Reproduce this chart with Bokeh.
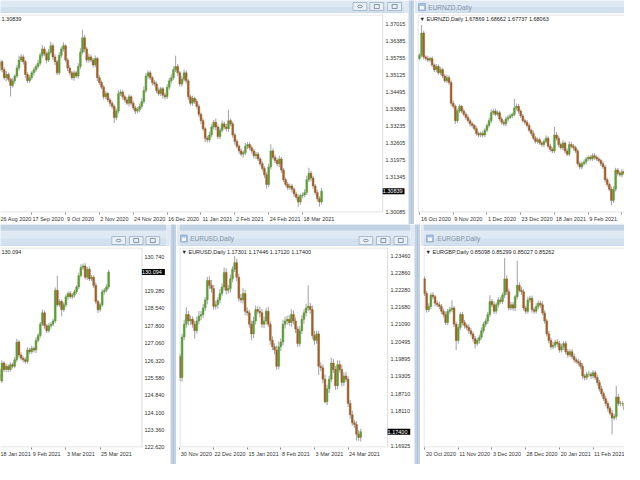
from bokeh.plotting import figure
from bokeh.layouts import row, column
from bokeh.models import (Range1d, FixedTicker, Label, ColumnDataSource,
                          PrintfTickFormatter, BoxAnnotation)
from bokeh.core.properties import value
from bokeh.embed import file_html
from bokeh.resources import INLINE

# ------------------------------------------------------------------ data
# top-left window (symbol name hidden off-screen), daily closes
TL_first_open = 1.35300
TL_close = [
    1.35507, 1.35625, 1.35330, 1.35035, 1.35153, 1.34977, 1.34741, 1.34918, 1.35094, 1.35389,
    1.35684, 1.35801, 1.35625, 1.35153, 1.34918, 1.35035, 1.35212, 1.35330, 1.35448, 1.35566,
    1.35860, 1.36096, 1.35919, 1.35684, 1.35978, 1.36214, 1.35801, 1.35625, 1.35212, 1.35860,
    1.36096, 1.36214, 1.35684, 1.35389, 1.35212, 1.35035, 1.35212, 1.35094, 1.35448, 1.35978,
    1.36508, 1.36096, 1.35684, 1.35801, 1.35684, 1.35507, 1.35742, 1.35035, 1.34859, 1.34682,
    1.34329, 1.34446, 1.34211, 1.34093, 1.33975, 1.33563, 1.33798, 1.34446, 1.34505, 1.34329,
    1.34211, 1.34093, 1.34329, 1.34093, 1.33916, 1.33798, 1.33857, 1.33975, 1.34152, 1.34564,
    1.35094, 1.35212, 1.35035, 1.34859, 1.34800, 1.34564, 1.34446, 1.34623, 1.34387, 1.34329,
    1.34682, 1.34918, 1.35035, 1.35330, 1.35448, 1.35212, 1.34800, 1.34977, 1.35212, 1.34918,
    1.34329, 1.34093, 1.34270, 1.34152, 1.33975, 1.33681, 1.33445, 1.33150, 1.32797, 1.32738,
    1.32915, 1.33209, 1.33386, 1.33209, 1.32856, 1.33091, 1.33327, 1.33209, 1.33150, 1.33445,
    1.33327, 1.32915, 1.32679, 1.32502, 1.32326, 1.32208, 1.32267, 1.32502, 1.32561, 1.32443,
    1.32326, 1.32149, 1.32208, 1.32031, 1.31854, 1.31678, 1.31442, 1.31088, 1.31737, 1.32326,
    1.32090, 1.31972, 1.31854, 1.32031, 1.31619, 1.31265, 1.31088, 1.30971, 1.31030, 1.30912,
    1.30735, 1.30617, 1.30440, 1.30676, 1.30699, 1.30794, 1.31265, 1.31501, 1.31324, 1.31030,
    1.30794, 1.30558, 1.30440, 1.30839]
TL_hi_pips = [
    8, 10, 6, 9, 12, 7, 5, 10, 8, 12,
    15, 10, 9, 6, 8, 10, 7, 9, 8, 12,
    10, 14, 9, 8, 12, 15, 8, 10, 6, 11,
    9, 13, 6, 8, 10, 7, 9, 8, 12, 14,
    30, 10, 8, 12, 9, 8, 11, 6, 9, 7,
    8, 10, 6, 8, 9, 7, 10, 12, 9, 8,
    7, 10, 9, 6, 8, 7, 9, 10, 12, 14,
    10, 9, 8, 7, 10, 9, 12, 8, 7, 9,
    11, 10, 13, 12, 40, 9, 8, 10, 12, 9,
    7, 8, 10, 6, 9, 8, 7, 8, 6, 9,
    12, 10, 8, 14, 9, 10, 12, 9, 11, 40,
    8, 9, 7, 8, 6, 9, 8, 12, 10, 9,
    8, 7, 9, 8, 6, 9, 8, 10, 12, 25,
    9, 10, 8, 12, 7, 9, 8, 10, 9, 8,
    7, 9, 10, 8, 9, 12, 14, 20, 9, 8,
    7, 10, 9, 12]
TL_lo_pips = [
    9, 7, 10, 8, 12, 9, 40, 8, 10, 7,
    9, 8, 10, 12, 9, 7, 8, 10, 9, 8,
    8, 10, 9, 12, 8, 9, 10, 12, 9, 8,
    10, 9, 8, 12, 10, 9, 11, 8, 10, 9,
    8, 12, 10, 9, 8, 10, 9, 12, 10, 8,
    10, 9, 8, 12, 9, 20, 10, 8, 9, 10,
    9, 8, 12, 10, 9, 11, 8, 10, 9, 8,
    9, 10, 8, 12, 9, 10, 8, 9, 12, 10,
    8, 9, 10, 8, 9, 12, 10, 9, 8, 10,
    12, 9, 10, 8, 9, 10, 12, 9, 14, 10,
    9, 8, 10, 12, 9, 10, 8, 9, 10, 12,
    9, 10, 12, 9, 10, 8, 12, 9, 10, 8,
    9, 10, 12, 8, 9, 10, 12, 15, 9, 10,
    8, 10, 9, 12, 10, 9, 8, 10, 9, 12,
    10, 9, 18, 10, 9, 8, 10, 9, 12, 10,
    9, 10, 18, 9]
TL_date_ticks = [0, 16, 32, 48, 64, 80, 96, 112, 128, 144]
TL_date_labels = ["26 Aug 2020", "17 Sep 2020", "9 Oct 2020", "2 Nov 2020", "24 Nov 2020",
                  "16 Dec 2020", "11 Jan 2021", "2 Feb 2021", "24 Feb 2021", "18 Mar 2021"]
TL_price_ticks = [1.30085, 1.31345, 1.31975, 1.32605, 1.33235, 1.33865,
                  1.34495, 1.35125, 1.35755, 1.36385, 1.37015]
TL_header = "1.30839"
TL_last = 1.30839

# EURNZD, Daily
TR_first_open = 1.76582
TR_close = [
    1.76824, 1.78518, 1.76703, 1.76582, 1.76461, 1.76582, 1.76098, 1.75735, 1.75977, 1.75493,
    1.75735, 1.75251, 1.74888, 1.75130, 1.74767, 1.73194, 1.72952, 1.71863, 1.72589, 1.72952,
    1.72589, 1.72347, 1.72105, 1.71863, 1.71621, 1.71500, 1.71258, 1.70895, 1.70774, 1.70895,
    1.70774, 1.71137, 1.71500, 1.71863, 1.72468, 1.72589, 1.72347, 1.72468, 1.71984, 1.71742,
    1.71621, 1.71984, 1.72105, 1.72226, 1.72347, 1.72831, 1.72952, 1.72589, 1.72226, 1.71863,
    1.71742, 1.71500, 1.71137, 1.70895, 1.70532, 1.70290, 1.70411, 1.70169, 1.70048, 1.70290,
    1.70532, 1.69927, 1.69685, 1.69564, 1.70774, 1.70532, 1.70048, 1.69806, 1.70169, 1.69564,
    1.69322, 1.70048, 1.69927, 1.69806, 1.69564, 1.68596, 1.68354, 1.68596, 1.68717, 1.68959,
    1.69080, 1.68959, 1.69201, 1.69080, 1.68959, 1.68838, 1.68596, 1.68354, 1.67386, 1.67023,
    1.66660, 1.65813, 1.66660, 1.68112, 1.67870, 1.67749, 1.67991, 1.67870]
TR_hi_pips = [
    15, 60, 18, 12, 20, 14, 16, 12, 18, 15,
    20, 14, 16, 22, 18, 15, 20, 14, 18, 16,
    12, 18, 15, 20, 14, 16, 12, 18, 15, 14,
    20, 16, 15, 22, 25, 18, 20, 16, 14, 18,
    15, 20, 18, 16, 14, 70, 22, 18, 15, 14,
    16, 18, 15, 14, 20, 16, 18, 15, 14, 16,
    20, 15, 18, 16, 60, 22, 18, 15, 20, 14,
    18, 25, 20, 16, 15, 14, 18, 16, 20, 15,
    14, 16, 18, 20, 15, 16, 14, 18, 15, 16,
    14, 20, 22, 18, 16, 20, 18, 15]
TR_lo_pips = [
    14, 16, 20, 18, 15, 14, 16, 18, 20, 15,
    18, 16, 14, 15, 18, 20, 16, 25, 18, 15,
    16, 14, 18, 15, 20, 16, 14, 18, 15, 16,
    18, 15, 14, 16, 20, 18, 15, 14, 16, 18,
    15, 16, 18, 14, 16, 15, 18, 20, 16, 14,
    18, 16, 15, 20, 14, 16, 18, 15, 16, 18,
    14, 16, 18, 15, 16, 20, 18, 14, 16, 18,
    16, 15, 18, 20, 16, 14, 18, 16, 15, 18,
    16, 14, 15, 18, 16, 14, 18, 16, 20, 18,
    16, 35, 20, 18, 16, 15, 18, 16]
TR_date_ticks = [0, 16, 32, 48, 64, 80, 96]
TR_date_labels = ["16 Oct 2020", "9 Nov 2020", "1 Dec 2020", "23 Dec 2020",
                  "18 Jan 2021", "9 Feb 2021", "3 Mar 2021"]
TR_header = "\u25bc EURNZD,Daily  1.67869 1.68662 1.67737 1.68063"
TR_title = "EURNZD,Daily"

# EURJPY, Daily (bottom-left, name hidden)
BL_first_open = 125.936
BL_close = [
    125.660, 125.453, 126.212, 125.936, 126.074, 125.936, 126.143, 126.074, 126.351, 127.110,
    126.558, 126.420, 126.351, 126.282, 126.765, 126.696, 126.834, 126.765, 127.179, 127.386,
    127.869, 128.353, 127.800, 127.593, 127.800, 127.869, 128.007, 129.319, 128.698, 128.836,
    128.491, 128.698, 129.043, 129.181, 129.043, 129.112, 129.250, 129.457, 129.941, 130.286,
    130.355, 129.872, 130.217, 129.802, 129.872, 129.526, 128.836, 128.491, 128.698, 129.250,
    129.319, 129.457, 130.094]
BL_hi_pips = [
    10, 8, 12, 9, 11, 8, 10, 9, 12, 14,
    9, 10, 8, 11, 12, 9, 10, 8, 12, 10,
    9, 14, 10, 8, 12, 9, 10, 12, 62, 10,
    9, 12, 10, 8, 11, 9, 10, 8, 12, 14,
    10, 12, 9, 11, 10, 8, 12, 9, 10, 11,
    9, 12, 10]
BL_lo_pips = [
    12, 10, 9, 11, 10, 12, 9, 10, 8, 9,
    11, 10, 12, 9, 10, 11, 9, 10, 12, 9,
    10, 8, 12, 10, 9, 11, 10, 9, 8, 10,
    28, 9, 10, 12, 9, 10, 11, 9, 10, 8,
    9, 10, 12, 9, 10, 11, 12, 14, 9, 10,
    11, 9, 10]
BL_date_ticks = [0, 16, 32, 48]
BL_date_labels = ["18 Jan 2021", "9 Feb 2021", "3 Mar 2021", "25 Mar 2021"]
BL_price_ticks = [122.620, 123.360, 124.100, 124.840, 125.580, 126.320,
                  127.060, 127.800, 128.540, 129.280, 130.740]
BL_header = "130.094"
BL_last = 130.094

# EURUSD, Daily
BM_first_open = 1.19986
BM_close = [
    1.19263, 1.20654, 1.21100, 1.21433, 1.21211, 1.21266, 1.21100, 1.20877, 1.21211, 1.21378,
    1.21433, 1.21656, 1.21934, 1.22602, 1.22435, 1.22324, 1.21712, 1.21767, 1.21934, 1.22157,
    1.22380, 1.22880, 1.22268, 1.22324, 1.22658, 1.22992, 1.23214, 1.22713, 1.21990, 1.21934,
    1.22157, 1.21545, 1.21489, 1.21100, 1.20765, 1.21211, 1.21600, 1.21545, 1.21489, 1.21100,
    1.21211, 1.21545, 1.21100, 1.20543, 1.20320, 1.20209, 1.19652, 1.20320, 1.20487, 1.21100,
    1.21211, 1.21266, 1.21155, 1.21433, 1.21211, 1.20932, 1.20431, 1.20877, 1.21266, 1.21489,
    1.21656, 1.21712, 1.21600, 1.20710, 1.20543, 1.20765, 1.19652, 1.19597, 1.19208, 1.18428,
    1.18874, 1.19208, 1.19764, 1.19541, 1.18985, 1.19708, 1.19541, 1.19096, 1.19318, 1.19208,
    1.18373, 1.17983, 1.17705, 1.17649, 1.17316, 1.17205, 1.17400]
BM_hi_pips = [
    10, 12, 15, 25, 12, 14, 10, 12, 15, 18,
    12, 14, 10, 12, 15, 18, 12, 14, 10, 15,
    12, 17, 14, 12, 15, 10, 22, 14, 12, 15,
    18, 12, 14, 10, 12, 15, 14, 12, 16, 12,
    14, 12, 15, 10, 14, 12, 16, 18, 12, 15,
    14, 12, 16, 18, 14, 12, 10, 15, 14, 12,
    15, 72, 12, 14, 16, 12, 10, 14, 12, 16,
    14, 12, 18, 14, 12, 15, 14, 16, 12, 14,
    10, 12, 14, 10, 12, 14, 10]
BM_lo_pips = [
    12, 14, 10, 12, 15, 14, 12, 28, 10, 12,
    14, 12, 10, 15, 12, 14, 12, 10, 14, 12,
    10, 12, 15, 12, 14, 12, 10, 14, 12, 10,
    12, 14, 10, 12, 22, 14, 12, 10, 15, 12,
    14, 12, 10, 15, 12, 14, 12, 10, 14, 12,
    15, 12, 10, 14, 12, 14, 12, 10, 12, 14,
    12, 10, 14, 12, 15, 12, 30, 12, 14, 6,
    12, 14, 10, 12, 14, 12, 10, 14, 12, 10,
    12, 14, 10, 12, 22, 12, 14]
BM_date_ticks = [0, 16, 32, 48, 64, 80]
BM_date_labels = ["30 Nov 2020", "22 Dec 2020", "15 Jan 2021", "8 Feb 2021",
                  "3 Mar 2021", "24 Mar 2021"]
BM_price_ticks = [1.16925, 1.18110, 1.18710, 1.19305, 1.19895, 1.20495,
                  1.21090, 1.21680, 1.22280, 1.22860, 1.23460]
BM_header = "\u25bc EURUSD,Daily  1.17301 1.17446 1.17120 1.17400"
BM_title = "EURUSD,Daily"
BM_last = 1.17400

# EURGBP, Daily
BR_first_open = 0.91742
BR_close = [
    0.91173, 0.90541, 0.90667, 0.91110, 0.91046, 0.90794, 0.90730, 0.90667, 0.90478, 0.90351,
    0.90035, 0.90478, 0.90541, 0.90604, 0.89972, 0.89340, 0.89846, 0.90351, 0.90035, 0.89909,
    0.89846, 0.89719, 0.89593, 0.89403, 0.89214, 0.89340, 0.89466, 0.89719, 0.89972, 0.90098,
    0.90351, 0.90857, 0.90730, 0.90478, 0.90730, 0.90920, 0.90857, 0.91110, 0.91742, 0.91236,
    0.90604, 0.90730, 0.90604, 0.91046, 0.91489, 0.91299, 0.91236, 0.90604, 0.90478, 0.90920,
    0.90983, 0.90541, 0.90478, 0.90667, 0.90794, 0.90730, 0.90414, 0.90098, 0.89593, 0.89340,
    0.89087, 0.89150, 0.89277, 0.89214, 0.88961, 0.89087, 0.89214, 0.88898, 0.88771, 0.88898,
    0.88708, 0.88582, 0.88518, 0.88455, 0.88329, 0.87950, 0.87886, 0.88013, 0.88013, 0.87950,
    0.88076, 0.87886, 0.87697, 0.87444, 0.87254, 0.87065, 0.86875, 0.86686, 0.86496, 0.86306,
    0.86369, 0.87128, 0.86875, 0.86875, 0.86875, 0.86622]
BR_hi_pips = [
    8, 10, 12, 9, 11, 8, 10, 12, 9, 10,
    12, 9, 10, 30, 8, 10, 12, 9, 11, 10,
    9, 12, 10, 8, 11, 9, 10, 12, 9, 10,
    11, 25, 10, 12, 9, 10, 12, 9, 82, 14,
    12, 10, 11, 9, 95, 12, 14, 10, 9, 12,
    10, 11, 9, 12, 10, 9, 14, 10, 9, 11,
    10, 12, 9, 11, 10, 12, 9, 10, 11, 9,
    10, 12, 9, 10, 11, 12, 9, 10, 12, 9,
    10, 9, 11, 10, 12, 9, 10, 11, 9, 12,
    10, 44, 12, 10, 9, 11]
BR_lo_pips = [
    10, 12, 9, 11, 10, 12, 9, 10, 11, 12,
    9, 10, 12, 10, 11, 38, 12, 10, 9, 11,
    10, 12, 9, 11, 19, 10, 12, 9, 10, 11,
    12, 10, 9, 11, 10, 12, 9, 10, 11, 12,
    10, 9, 11, 12, 10, 9, 12, 10, 11, 9,
    10, 12, 11, 9, 10, 12, 9, 11, 10, 12,
    10, 9, 11, 12, 10, 9, 12, 10, 11, 9,
    10, 12, 9, 11, 10, 12, 11, 9, 10, 12,
    10, 9, 12, 10, 11, 9, 10, 12, 9, 63,
    10, 12, 9, 11, 10, 12]
BR_date_ticks = [0, 16, 32, 48, 64, 80]
BR_date_labels = ["20 Oct 2020", "11 Nov 2020", "3 Dec 2020", "28 Dec 2020",
                  "20 Jan 2021", "11 Feb 2021"]
BR_header = "\u25bc EURGBP,Daily  0.85098 0.85299 0.85027 0.85262"
BR_title = "EURGBP,Daily"

# ------------------------------------------------------------------ style
FONT = "Liberation Sans"
UP = "#5e9c36"
DN = "#a05e29"
WICK = "#a9a9a9"
AXIS = "#8e8e8e"
LABEL = "#333333"
FRAME = "#c3d2e3"
TITLE_BG = "#dfe9f4"
TITLE_BG2 = "#d3e0ee"
BTN = "#e9eff6"
BTN_LINE = "#9cafc4"
TITLE_TXT = "#8193a8"
CHAR_W = 2.8   # approx. width of one label character at 5.5px


def add_candles(p, first_open, closes, hi, lo, pip):
    n = min(len(closes), len(hi), len(lo))
    closes = closes[:n]
    opens = [first_open] + closes[:-1]
    top = [max(o, c) for o, c in zip(opens, closes)]
    bot = [min(o, c) for o, c in zip(opens, closes)]
    src = ColumnDataSource(dict(
        x=list(range(n)), top=top, bot=bot,
        high=[t + h * pip for t, h in zip(top, hi[:n])],
        low=[b - l * pip for b, l in zip(bot, lo[:n])],
        col=[UP if c >= o else DN for o, c in zip(opens, closes)]))
    p.segment(x0="x", y0="low", x1="x", y1="high", source=src, line_color=WICK, line_width=1.1)
    p.vbar(x="x", width=0.85, top="top", bottom="bot", source=src,
           fill_color="col", line_color="col", line_width=0.5)


def style_axis(ax):
    ax.axis_line_color = None
    ax.major_tick_line_color = None
    ax.major_tick_out = 0
    ax.major_tick_in = 0
    ax.minor_tick_in = 0
    ax.major_label_text_font = FONT
    ax.major_label_text_font_size = "5.5px"
    ax.major_label_text_color = LABEL


def chart(w, h, borders, xr, yr, first_open, closes, hi, lo, pip,
          dticks, dlabels, header, header_dx=2, edge_x=None, left_line=True,
          pticks=None, pfmt=None, last=None, standoff=0):
    bl, br, bt, bb = borders
    fw = w - bl - br
    fh = h - bt - bb
    pxb = fw / (xr[1] - xr[0])          # pixels per bar
    half_x = 0.5 / pxb
    half_y = 0.5 * (yr[1] - yr[0]) / fh
    p = figure(width=w, height=h, x_range=Range1d(*xr), y_range=Range1d(*yr),
               output_backend="svg", toolbar_location=None,
               x_axis_location="below",
               y_axis_location=("right" if pticks else None),
               min_border_left=bl, min_border_right=br,
               min_border_top=bt, min_border_bottom=bb)
    p.xgrid.visible = False
    p.ygrid.visible = False
    p.background_fill_color = "white"
    p.border_fill_color = "white"
    p.outline_line_color = None
    add_candles(p, first_open, closes, hi, lo, pip)

    # chart frame rectangle (MT4 draws it left of the price scale)
    p.add_layout(BoxAnnotation(
        left=(xr[0] + half_x) if left_line else (xr[0] - 20),
        right=(edge_x if edge_x is not None else xr[1] + 20),
        top=yr[1] - half_y, bottom=yr[0] + half_y,
        fill_alpha=0, line_color=AXIS, line_width=1))

    # date scale: MT4 labels start at the tick, so the label sits right of it
    centers = [round(t + (len(s) * CHAR_W / 2 + 1) / pxb, 3) for t, s in zip(dticks, dlabels)]
    xa = p.xaxis[0]
    xa.ticker = FixedTicker(ticks=centers, minor_ticks=dticks)
    xa.major_label_overrides = {c: s for c, s in zip(centers, dlabels)}
    style_axis(xa)
    xa.minor_tick_line_color = AXIS
    xa.minor_tick_out = 2
    xa.major_label_standoff = 1

    if pticks:
        ya = p.yaxis[0]
        ya.ticker = FixedTicker(ticks=pticks)
        ya.formatter = PrintfTickFormatter(format=pfmt)
        style_axis(ya)
        ya.minor_tick_line_color = None
        ya.major_label_standoff = standoff
        p.add_layout(Label(x=edge_x, y=last, x_offset=0, text=" " + (pfmt % last) + " ",
                           text_font=FONT, text_font_size="5.5px", text_color="white",
                           text_baseline="middle", text_align="left",
                           background_fill_color="black"))
    p.add_layout(Label(x=xr[0], y=yr[1], x_offset=header_dx, y_offset=-4, text=header,
                       text_font=FONT, text_font_size="5.5px", text_color="#222222",
                       text_baseline="middle", text_align="left"))
    return p


def titlebar(w, h, band, title=None, icon_x=None, text_x=None, buttons=(), by=(2, 10)):
    p = figure(width=w, height=h, x_range=Range1d(0, w), y_range=Range1d(h, 0),
               output_backend="svg", toolbar_location=None,
               x_axis_location=None, y_axis_location=None, min_border=0)
    p.xgrid.visible = False
    p.ygrid.visible = False
    p.outline_line_color = None
    p.background_fill_color = TITLE_BG
    p.border_fill_color = TITLE_BG
    mid = band + (h - band) / 2.0
    p.quad(left=[0], right=[w], top=[mid], bottom=[h], fill_color=TITLE_BG2, line_color=None)
    if band > 0:
        p.quad(left=[0], right=[w], top=[0], bottom=[band], fill_color=FRAME, line_color=None)
    p.quad(left=[0], right=[w], top=[h - 1], bottom=[h], fill_color=FRAME, line_color=None)
    if icon_x is not None:
        p.quad(left=[icon_x], right=[icon_x + 7], top=[mid - 3.5], bottom=[mid + 3.5],
               fill_color="#a9c3df", line_color="#7f9cbd", line_width=0.6)
        p.quad(left=[icon_x + 1.5], right=[icon_x + 5.5], top=[mid - 1], bottom=[mid + 2.5],
               fill_color="#f4f8fc", line_color=None)
    if title:
        p.text(x=[text_x], y=[mid], text=[title], text_font=value(FONT),
               text_font_size="6.5px", text_color=TITLE_TXT,
               text_baseline="middle", text_align="left")
    y0, y1 = by
    for k, bx in enumerate(buttons):
        p.quad(left=[bx], right=[bx + 14], top=[y0], bottom=[y1],
               fill_color=BTN, line_color=BTN_LINE, line_width=0.8)
        cx = bx + 7
        cy = (y0 + y1) / 2.0
        if k == 0:
            p.ellipse(x=[cx], y=[cy], width=5, height=2.5, fill_color=None,
                      line_color="#6f8093", line_width=0.8)
        else:
            p.quad(left=[cx - 2.5], right=[cx + 2.5], top=[cy - 2], bottom=[cy + 2],
                   fill_color=None, line_color="#6f8093", line_width=0.8)
    return p


def strip(w, h):
    p = figure(width=w, height=h, x_range=Range1d(0, w), y_range=Range1d(0, h),
               output_backend="svg", toolbar_location=None,
               x_axis_location=None, y_axis_location=None, min_border=0)
    p.xgrid.visible = False
    p.ygrid.visible = False
    p.outline_line_color = None
    p.background_fill_color = FRAME
    p.border_fill_color = FRAME
    p.quad(left=[w / 2.0 - 0.5], right=[w / 2.0 + 0.5], bottom=[0], top=[h],
           fill_color="#b3c4d8", line_color=None)
    return p


# ------------------------------------------------------------------ top row
tl_title = titlebar(408, 13, 0, buttons=(356, 373, 391), by=(2, 10))
tl_chart = chart(408, 211, (0, 4, 1, 10), (1.24, 192.2), (1.30051, 1.37369),
                 TL_first_open, TL_close, TL_hi_pips, TL_lo_pips, 0.0001,
                 TL_date_ticks, TL_date_labels, TL_header, header_dx=1,
                 edge_x=181.9, left_line=False,
                 pticks=TL_price_ticks, pfmt="%.5f", last=TL_last, standoff=-19)
tr_title = titlebar(210, 13, 0, title=TR_title, icon_x=1, text_x=11)
tr_chart = chart(210, 211, (3, 0, 1, 10), (-0.93, 97.2), (1.64893, 1.79922),
                 TR_first_open, TR_close, TR_hi_pips, TR_lo_pips, 0.0001,
                 TR_date_ticks, TR_date_labels, TR_header)
top = row(column(tl_title, tl_chart), strip(6, 224), column(tr_title, tr_chart))

# ------------------------------------------------------------------ bottom row
bl_title = titlebar(170, 22, 6, buttons=(114, 132, 149), by=(12, 20))
bl_chart = chart(170, 218, (0, 4, 1, 17), (1.37, 79.1), (122.608, 131.142),
                 BL_first_open, BL_close, BL_hi_pips, BL_lo_pips, 0.01,
                 BL_date_ticks, BL_date_labels, BL_header, header_dx=1,
                 edge_x=67.6, left_line=False,
                 pticks=BL_price_ticks, pfmt="%.3f", last=BL_last, standoff=-22)
bm_title = titlebar(238, 22, 6, title=BM_title, icon_x=1, text_x=11,
                    buttons=(185, 203, 221), by=(12, 20))
bm_chart = chart(238, 218, (3, 4, 1, 17), (-0.23, 109.7), (1.16857, 1.23737),
                 BM_first_open, BM_close, BM_hi_pips, BM_lo_pips, 0.0001,
                 BM_date_ticks, BM_date_labels, BM_header,
                 edge_x=98.8, pticks=BM_price_ticks, pfmt="%.5f", last=BM_last,
                 standoff=-20)
br_title = titlebar(204, 22, 6, title=BR_title, icon_x=3, text_x=14)
br_chart = chart(204, 218, (3, 0, 1, 17), (-0.5, 94.9), (0.85156, 0.92968),
                 BR_first_open, BR_close, BR_hi_pips, BR_lo_pips, 0.0001,
                 BR_date_ticks, BR_date_labels, BR_header)
bottom = row(column(bl_title, bl_chart), strip(6, 240), column(bm_title, bm_chart),
             strip(6, 240), column(br_title, br_chart))

layout = column(top, bottom)
open("out.html", "w").write(file_html(layout, INLINE))
